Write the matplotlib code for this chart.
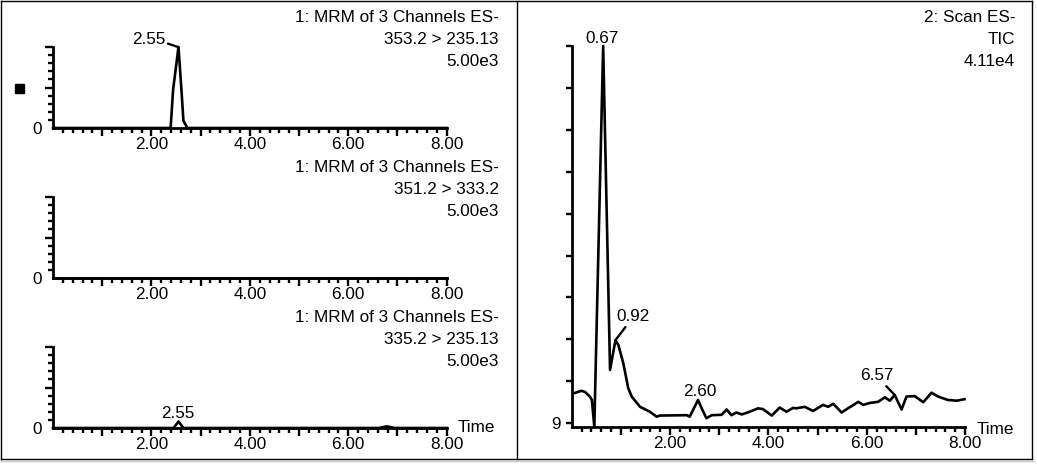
import matplotlib
matplotlib.use("Agg")
import matplotlib.pyplot as plt
from matplotlib.patches import Rectangle
from matplotlib.lines import Line2D
import numpy as np

plt.rcParams["font.family"] = ["Liberation Sans", "DejaVu Sans"]

# --- data ---
# MRM channel 1: 353.2 > 235.13 (percent of 5.00e3)
mrm1_time = [0.0, 2.39, 2.44, 2.55, 2.61, 2.65, 2.73, 8.0]
mrm1_int = [0, 0, 47, 100, 47, 9, 0, 0]

# MRM channel 2: 351.2 > 333.2 (flat)
mrm2_time = [0.0, 8.0]
mrm2_int = [0, 0]

# MRM channel 3: 335.2 > 235.13
mrm3_time = [0.0, 2.45, 2.55, 2.65, 6.62, 6.78, 6.95, 8.0]
mrm3_int = [0, 0, 8, 0, 0, 2, 0, 0]

# Scan ES- TIC (percent of 4.11e4)
tic_time = [0.03, 0.20, 0.27, 0.37, 0.41, 0.46, 0.64, 0.78, 0.89, 0.95, 1.05,
            1.15, 1.22, 1.39, 1.59, 1.73, 1.79, 2.34, 2.40, 2.57, 2.64, 2.74,
            2.85, 3.05, 3.15, 3.25, 3.35, 3.46, 3.62, 3.79, 3.89, 4.07, 4.23,
            4.37, 4.50, 4.57, 4.74, 4.91, 5.11, 5.22, 5.32, 5.49, 5.62, 5.83,
            5.93, 6.06, 6.23, 6.37, 6.47, 6.57, 6.71, 6.81, 6.98, 7.15, 7.32,
            7.45, 7.65, 7.83, 7.99]
tic_int = [8.8, 9.5, 9.2, 8.0, 7.1, 0.1, 100, 15.0, 22.8, 21.5, 16.7,
           10.2, 8.0, 5.3, 4.0, 2.7, 3.0, 3.1, 2.7, 7.1, 5.0, 2.3,
           3.1, 3.2, 4.6, 3.1, 3.8, 3.3, 4.0, 4.9, 4.7, 3.0, 5.1,
           4.0, 5.0, 4.9, 5.3, 4.2, 5.8, 5.3, 6.1, 3.8, 4.9, 6.6,
           5.8, 6.3, 6.6, 7.8, 6.9, 8.4, 4.6, 8.0, 8.1, 6.5, 9.0,
           8.0, 7.1, 6.9, 7.3]

mrm_titles = [
    ["1: MRM of 3 Channels ES-", "353.2 > 235.13", "5.00e3"],
    ["1: MRM of 3 Channels ES-", "351.2 > 333.2", "5.00e3"],
    ["1: MRM of 3 Channels ES-", "335.2 > 235.13", "5.00e3"],
]
tic_title = ["2: Scan ES-", "TIC", "4.11e4"]
x_ticklabels = ["", "2.00", "", "4.00", "", "6.00", "", "8.00"]

W, H = 1037, 468
fig = plt.figure(figsize=(W / 100, H / 100), dpi=100)
FS = 12.3
LW = 1.9


def px_axes(x0, x1, ytop, ybot):
    return fig.add_axes([x0 / W, 1 - ybot / H, (x1 - x0) / W, (ybot - ytop) / H])


def style_x(ax):
    ax.set_xlim(0, 8)
    ax.set_xticks(np.arange(1, 9))
    ax.set_xticklabels(x_ticklabels)
    ax.set_xticks(np.arange(0.2, 8.0, 0.2), minor=True)
    ax.tick_params(axis="x", which="major", length=5.8, width=1.7,
                   direction="out", labelsize=FS, pad=1)
    ax.tick_params(axis="x", which="minor", length=3.6, width=1.7,
                   direction="out")
    for s in ["top", "right"]:
        ax.spines[s].set_visible(False)
    for s in ["left", "bottom"]:
        ax.spines[s].set_linewidth(2.0)
    ax.patch.set_visible(False)


def fig_text(x, y, s, **kw):
    fig.text(x / W, 1 - y / H, s, fontsize=FS, **kw)


# --- left: three MRM traces ---
mrm_rows = [(47, 128), (197, 278), (347, 428)]
mrm_data = [(mrm1_time, mrm1_int), (mrm2_time, mrm2_int), (mrm3_time, mrm3_int)]
axes_left = []
for (ytop, ybot), (t, v), title in zip(mrm_rows, mrm_data, mrm_titles):
    ax = px_axes(53, 446.7, ytop, ybot)
    style_x(ax)
    ax.set_ylim(0, 100)
    ax.set_yticks([0, 50, 100])
    ax.set_yticklabels(["0", "", ""])
    ax.set_yticks(np.arange(10, 100, 10), minor=True)
    ax.tick_params(axis="y", which="major", length=5.8, width=1.7,
                   labelsize=FS, pad=2)
    ax.tick_params(axis="y", which="minor", length=3.6, width=1.7)
    ax.yaxis.get_major_ticks()[0].tick1line.set_visible(False)
    ax.plot(t, v, color="black", linewidth=LW, clip_on=False,
            solid_joinstyle="round")
    for k, line in enumerate(title):
        fig_text(499, ytop - 29 + 22 * k, line, ha="right", va="center")
    axes_left.append(ax)

ax1, ax2, ax3 = axes_left
ax1.annotate("2.55", xy=(2.54, 100), xytext=(2.28, 109), ha="right",
             va="center", fontsize=FS, annotation_clip=False,
             arrowprops=dict(arrowstyle="-", lw=1.7, color="black",
                             shrinkA=0, shrinkB=0, relpos=(1.0, 0.3)))
ax3.text(2.54, 18.5, "2.55", ha="center", va="center", fontsize=FS)
fig_text(458, 428, "Time", ha="left", va="center")
fig.add_artist(Rectangle((15 / W, 1 - 93 / H), 9 / W, 9 / H,
                         transform=fig.transFigure, color="black"))

# --- right: TIC ---
axr = px_axes(571.7, 965, 46, 427)
style_x(axr)
axr.set_ylim(0, 100)
yt = 100 - 11 * np.arange(10)
axr.set_yticks(yt)
axr.set_yticklabels([""] * 9 + ["9"])
axr.tick_params(axis="y", which="major", length=4, width=1.7,
                labelsize=FS, pad=4)
axr.plot(tic_time, tic_int, color="black", linewidth=LW, clip_on=False,
         solid_joinstyle="round")
for k, line in enumerate(tic_title):
    fig_text(1015, 18 + 22 * k, line, ha="right", va="center")
axr.text(0.62, 102, "0.67", ha="center", va="center", fontsize=FS)
axr.text(2.61, 9.2, "2.60", ha="center", va="center", fontsize=FS)
axr.annotate("0.92", xy=(0.89, 22.8), xytext=(1.25, 28.9), ha="center",
             va="center", fontsize=FS,
             arrowprops=dict(arrowstyle="-", lw=1.7, color="black",
                             shrinkA=0, shrinkB=0, relpos=(0.33, 0.0)))
axr.annotate("6.57", xy=(6.57, 8.4), xytext=(6.21, 13.4), ha="center",
             va="center", fontsize=FS,
             arrowprops=dict(arrowstyle="-", lw=1.7, color="black",
                             shrinkA=0, shrinkB=0, relpos=(0.7, 0.0)))
fig_text(977, 430, "Time", ha="left", va="center")

# --- frame ---
for xs, ys, c in [([1, 1032], [1, 1], "black"), ([1, 1032], [459, 459], "black"),
                  ([1, 1], [1, 459], "black"), ([1032, 1032], [1, 459], "black"),
                  ([517, 517], [1, 459], "black"), ([1, 1034], [461, 461], "#c8c8c8")]:
    fig.add_artist(Line2D([x / W for x in xs], [1 - y / H for y in ys],
                          transform=fig.transFigure, color=c, linewidth=1.0))

fig.savefig("out.png", dpi=100)
